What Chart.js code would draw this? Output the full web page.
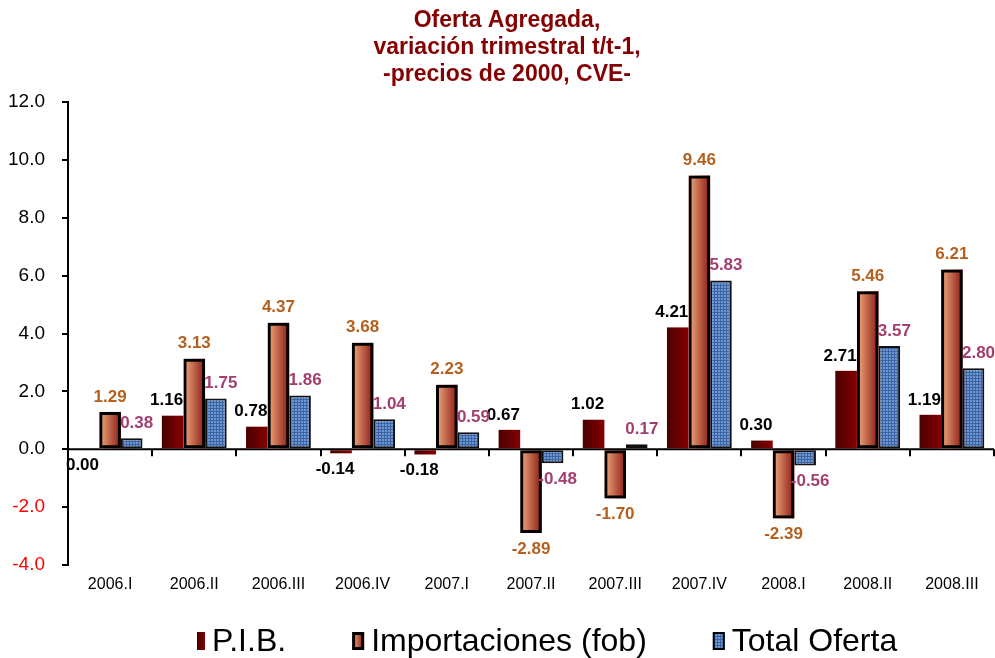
<!DOCTYPE html>
<html>
<head>
<meta charset="utf-8">
<script src="https://cdn.jsdelivr.net/npm/chart.js@4.4.0/dist/chart.umd.min.js"></script>
<style>
html, body { margin: 0; padding: 0; background: #fff; }
#wrap { width: 995px; height: 658px; }
</style>
</head>
<body>
<div id="wrap"><canvas id="oferta-chart"></canvas></div>
<script>
var trimestres = ["2006.I", "2006.II", "2006.III", "2006.IV", "2007.I", "2007.II", "2007.III", "2007.IV", "2008.I", "2008.II", "2008.III"];
var pib = [0.00, 1.16, 0.78, -0.14, -0.18, 0.67, 1.02, 4.21, 0.30, 2.71, 1.19];
var importaciones = [1.29, 3.13, 4.37, 3.68, 2.23, -2.89, -1.70, 9.46, -2.39, 5.46, 6.21];
var totalOferta = [0.38, 1.75, 1.86, 1.04, 0.59, -0.48, 0.17, 5.83, -0.56, 3.57, 2.80];
var yMin = -4, yMax = 12, yStep = 2;
var titulo = ["Oferta Agregada,", "variación trimestral t/t-1,", "-precios de 2000, CVE-"];
var nombres = ["P.I.B.", "Importaciones (fob)", "Total Oferta"];

var FONT = "'Liberation Sans', Arial, sans-serif";
Chart.defaults.font.family = FONT;

// grid pattern for the Total Oferta bars
function gridPattern() {
    var c = document.createElement('canvas');
    c.width = 3; c.height = 3;
    var g = c.getContext('2d');
    g.fillStyle = '#6f97d0';
    g.fillRect(0, 0, 3, 3);
    g.fillStyle = '#3c63a4';
    g.fillRect(0, 0, 3, 1);
    g.fillRect(0, 0, 1, 3);
    return g.createPattern(c, 'repeat');
}

// horizontal gradient fill drawn under each bar
var gradientBars = {
    id: 'gradientBars',
    beforeDatasetDraw: function(chart, args) {
        var ds = chart.data.datasets[args.index];
        if (!ds.gradient) return;
        var ctx = chart.ctx;
        ctx.save();
        args.meta.data.forEach(function(el) {
            var p = el.getProps(['x', 'y', 'base', 'width'], true);
            var l = p.x - p.width / 2;
            var g = ctx.createLinearGradient(l, 0, l + p.width, 0);
            g.addColorStop(0, ds.gradient[0]);
            g.addColorStop(1, ds.gradient[1]);
            ctx.fillStyle = g;
            ctx.fillRect(l, Math.min(p.y, p.base), p.width, Math.abs(p.base - p.y));
        });
        ctx.restore();
    }
};

// x axis line at zero with category tick marks
var zeroAxis = {
    id: 'zeroAxis',
    beforeDatasetsDraw: function(chart) {
        var ctx = chart.ctx, a = chart.chartArea;
        var y0 = chart.scales.y.getPixelForValue(0);
        var n = trimestres.length, w = (a.right - a.left) / n;
        ctx.save();
        ctx.strokeStyle = '#000';
        ctx.lineWidth = 2;
        ctx.beginPath();
        ctx.moveTo(a.left, y0);
        ctx.lineTo(a.right, y0);
        for (var i = 1; i <= n; i++) {
            var x = Math.round(a.left + i * w);
            ctx.moveTo(x, y0);
            ctx.lineTo(x, y0 + 7);
        }
        ctx.stroke();
        ctx.restore();
    }
};

// value labels over / under the bars
var valueLabels = {
    id: 'valueLabels',
    afterDatasetsDraw: function(chart) {
        var ctx = chart.ctx;
        ctx.save();
        ctx.font = 'bold 17px ' + FONT;
        ctx.textAlign = 'center';
        ctx.textBaseline = 'middle';
        chart.data.datasets.forEach(function(ds, i) {
            var meta = chart.getDatasetMeta(i);
            ctx.fillStyle = ds.labelColor;
            meta.data.forEach(function(el, j) {
                var v = ds.data[j];
                var y = v > 0 ? el.y - 15 : Math.max(el.y, el.base) + 16;
                ctx.fillText(v.toFixed(2), el.x + ds.labelShift, y);
            });
        });
        ctx.restore();
    }
};

// title and legend
var titleLegend = {
    id: 'titleLegend',
    afterDraw: function(chart) {
        var ctx = chart.ctx;
        ctx.save();
        ctx.fillStyle = '#850000';
        ctx.font = 'bold 23px ' + FONT;
        ctx.textAlign = 'center';
        ctx.textBaseline = 'middle';
        titulo.forEach(function(t, i) {
            ctx.fillText(t, 507, 21 + i * 27);
        });

        ctx.font = '32px ' + FONT;
        ctx.textAlign = 'left';
        var x = 197, yc = 641;
        chart.data.datasets.forEach(function(ds, i) {
            var bw = i === 0 ? 8 : 12, bh = 18;
            var bx = x, by = yc - bh / 2;
            if (ds.gradient) {
                var g = ctx.createLinearGradient(bx, 0, bx + bw, 0);
                g.addColorStop(0, ds.gradient[0]);
                g.addColorStop(1, ds.gradient[1]);
                ctx.fillStyle = g;
            } else {
                ctx.fillStyle = ds.backgroundColor;
            }
            ctx.fillRect(bx, by, bw, bh);
            if (ds.borderWidth) {
                ctx.strokeStyle = '#000';
                ctx.lineWidth = ds.borderWidth;
                ctx.strokeRect(bx + ds.borderWidth / 2, by + ds.borderWidth / 2, bw - ds.borderWidth, bh - ds.borderWidth);
            }
            ctx.fillStyle = '#000';
            var tx = bx + bw + 7;
            ctx.fillText(ds.label, tx, yc + 1);
            x = tx + ctx.measureText(ds.label).width + 66;
        });
        ctx.restore();
    }
};

new Chart(document.getElementById('oferta-chart'), {
    type: 'bar',
    data: {
        labels: trimestres,
        datasets: [
            {
                label: nombres[0],
                data: pib,
                backgroundColor: 'rgba(0,0,0,0)',
                gradient: ['#4a0000', '#850000'],
                borderWidth: 0,
                labelColor: '#000',
                labelShift: -6
            }, {
                label: nombres[1],
                data: importaciones,
                backgroundColor: 'rgba(0,0,0,0)',
                gradient: ['#f2ab80', '#8a1a12'],
                borderColor: '#000',
                borderWidth: 3,
                borderSkipped: false,
                labelColor: '#b5601e',
                labelShift: 0
            }, {
                label: nombres[2],
                data: totalOferta,
                backgroundColor: gridPattern(),
                borderColor: '#111',
                borderWidth: 2,
                borderSkipped: false,
                labelColor: '#a33f70',
                labelShift: 5
            }
        ]
    },
    options: {
        responsive: true,
        maintainAspectRatio: false,
        animation: false,
        layout: { padding: { top: 102, bottom: 58, left: 0, right: 1 } },
        datasets: { bar: { categoryPercentage: 0.77, barPercentage: 1.0 } },
        plugins: {
            legend: { display: false },
            title: { display: false },
            tooltip: { enabled: false }
        },
        scales: {
            x: {
                grid: { display: false },
                border: { display: false },
                ticks: { color: '#000', font: { size: 16 }, padding: 2, maxRotation: 0 },
                afterFit: function(s) { s.height = 35; }
            },
            y: {
                min: yMin,
                max: yMax,
                grid: { drawOnChartArea: false, color: '#000', tickLength: 6, lineWidth: 2 },
                border: { display: true, color: '#000', width: 2 },
                ticks: {
                    stepSize: yStep,
                    padding: 17,
                    font: { size: 19 },
                    color: function(c) { return c.tick && c.tick.value < 0 ? '#ff0000' : '#000'; },
                    callback: function(v) { return v.toFixed(1); }
                },
                afterFit: function(s) { s.width = 68; }
            }
        }
    },
    plugins: [gradientBars, zeroAxis, valueLabels, titleLegend]
});
</script>
</body>
</html>
